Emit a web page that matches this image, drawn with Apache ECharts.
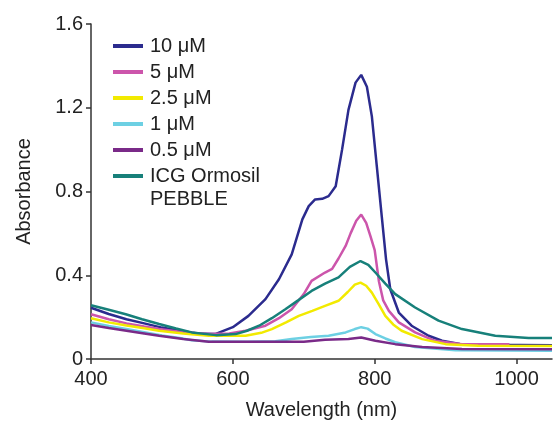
<!DOCTYPE html>
<html>
<head>
<meta charset="utf-8">
<script src="https://cdn.jsdelivr.net/npm/echarts@6/dist/echarts.min.js"></script>
<style>
  html, body { margin: 0; padding: 0; background: #fff; }
  #chart { width: 553px; height: 425px; }
</style>
</head>
<body>
<div id="chart"></div>
<script>
  // wavelength (nm), absorbance
  var conc10 = [[400,0.245],[425,0.215],[450,0.19],[475,0.17],[500,0.15],[525,0.135],[550,0.122],[575,0.119],[600,0.152],[622,0.206],[646,0.286],[665,0.381],[683,0.5],[698,0.667],[707,0.73],[716,0.762],[726,0.765],[735,0.778],[745,0.825],[754,1.0],[763,1.19],[773,1.32],[781,1.357],[789,1.3],[796,1.159],[803,0.92],[810,0.68],[816,0.476],[822,0.333],[834,0.222],[852,0.159],[876,0.111],[895,0.087],[920,0.072],[960,0.068],[1050,0.066]];
  var conc5 = [[400,0.214],[425,0.19],[450,0.17],[475,0.155],[496,0.143],[530,0.128],[566,0.119],[595,0.122],[618,0.135],[646,0.159],[665,0.195],[683,0.238],[700,0.31],[711,0.373],[730,0.413],[740,0.43],[749,0.48],[759,0.54],[766,0.6],[774,0.66],[781,0.69],[788,0.65],[794,0.587],[800,0.52],[806,0.37],[812,0.28],[820,0.23],[834,0.175],[857,0.127],[885,0.087],[923,0.071],[990,0.07]];
  var conc25 = [[400,0.195],[425,0.175],[450,0.16],[475,0.147],[496,0.135],[530,0.122],[566,0.111],[618,0.111],[640,0.125],[655,0.143],[675,0.175],[693,0.206],[712,0.23],[730,0.254],[749,0.278],[762,0.32],[772,0.355],[780,0.365],[788,0.35],[796,0.317],[806,0.26],[815,0.206],[826,0.165],[838,0.135],[867,0.095],[900,0.071],[946,0.063],[1050,0.062]];
  var conc1 = [[400,0.175],[425,0.158],[450,0.143],[475,0.128],[500,0.112],[525,0.1],[542,0.09],[570,0.083],[620,0.082],[660,0.085],[683,0.095],[710,0.105],[735,0.111],[759,0.127],[772,0.143],[781,0.152],[790,0.145],[801,0.119],[815,0.098],[829,0.08],[857,0.057],[914,0.042],[1050,0.04]];
  var conc05 = [[400,0.162],[425,0.148],[450,0.135],[475,0.122],[496,0.111],[530,0.095],[566,0.082],[637,0.082],[700,0.082],[730,0.092],[763,0.095],[781,0.103],[801,0.087],[829,0.071],[867,0.057],[923,0.048],[1050,0.046]];
  var pebble = [[400,0.257],[425,0.235],[449,0.214],[472,0.19],[496,0.167],[520,0.146],[542,0.127],[576,0.114],[604,0.119],[620,0.135],[637,0.159],[655,0.195],[674,0.238],[692,0.28],[711,0.325],[730,0.36],[749,0.39],[765,0.44],[780,0.468],[791,0.45],[801,0.413],[815,0.36],[829,0.31],[857,0.246],[890,0.183],[923,0.143],[970,0.111],[1017,0.1],[1050,0.1]];

  var seriesNames = ['10 μM', '5 μM', '2.5 μM', '1 μM', '0.5 μM', 'ICG Ormosil'];
  var seriesData = [conc10, conc5, conc25, conc1, conc05, pebble];
  var colors = ['#2b2b8e', '#cc55ab', '#f2ea00', '#6dd0e3', '#7a2a88', '#17807a'];
  var xTicks = [400, 600, 800, 1000];

  var chart = echarts.init(document.getElementById('chart'));
  var font = 'Liberation Sans, Arial, sans-serif';

  chart.setOption({
    animation: false,
    grid: { left: 91, right: 1, top: 24, bottom: 65 },
    legend: {
      left: 113,
      top: 35,
      padding: 0,
      orient: 'vertical',
      itemWidth: 30,
      itemHeight: 4,
      itemGap: 4,
      icon: 'rect',
      data: seriesNames.map(function (n, i) {
        return { name: n, itemStyle: { color: colors[i] } };
      }),
      itemStyle: { borderWidth: 0 },
      textStyle: { fontFamily: font, fontSize: 20, color: '#222', lineHeight: 22, padding: [0, 0, 0, 2] },
      selectedMode: false
    },
    // second line of the last legend entry
    graphic: [{
      type: 'text',
      left: 150,
      top: 189,
      style: { text: 'PEBBLE', fontFamily: font, fontSize: 20, fill: '#222' }
    }],
    xAxis: {
      type: 'value',
      min: 400,
      max: 1050,
      interval: 200,
      name: 'Wavelength (nm)',
      nameLocation: 'middle',
      nameGap: 41,
      nameTextStyle: { fontFamily: font, fontSize: 20, color: '#222' },
      axisLine: { lineStyle: { color: '#333', width: 1.5 } },
      axisTick: { show: true, length: 5, customValues: xTicks, lineStyle: { color: '#333', width: 1.5 } },
      axisLabel: {
        customValues: xTicks,
        fontFamily: font, fontSize: 20, color: '#222', margin: 10,
        formatter: function (v) { return String(v); }
      },
      splitLine: { show: false }
    },
    yAxis: {
      type: 'value',
      min: 0,
      max: 1.6,
      interval: 0.4,
      name: 'Absorbance',
      nameLocation: 'middle',
      nameGap: 57,
      nameTextStyle: { fontFamily: font, fontSize: 20, color: '#222' },
      axisLine: { show: true, lineStyle: { color: '#333', width: 1.5 } },
      axisTick: { show: true, length: 5, lineStyle: { color: '#333', width: 1.5 } },
      axisLabel: { fontFamily: font, fontSize: 20, color: '#222', margin: 8 },
      splitLine: { show: false }
    },
    series: seriesNames.map(function (n, i) {
      return {
        name: n,
        type: 'line',
        data: seriesData[i],
        showSymbol: false,
        symbol: 'none',
        lineStyle: { color: colors[i], width: 2.5 },
        itemStyle: { color: colors[i] }
      };
    })
  });
</script>
</body>
</html>
